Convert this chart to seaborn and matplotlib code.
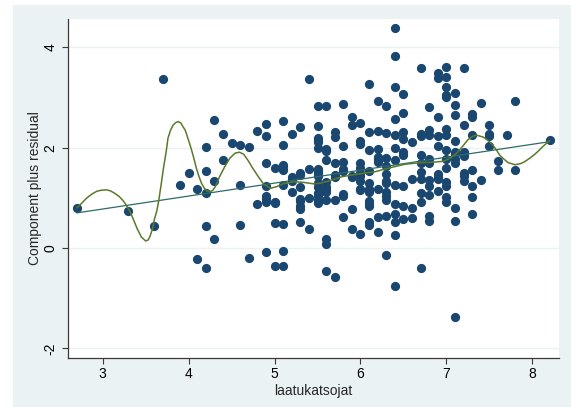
import numpy as np
import pandas as pd
import matplotlib
matplotlib.use("Agg")
import matplotlib.pyplot as plt
from matplotlib.patches import Rectangle
import seaborn as sns

# Rating levels (x) and the component-plus-residual values observed at each level
score_levels = [2.7, 3.3, 3.6, 3.7, 3.9, 4.0, 4.1, 4.2, 4.3, 4.4, 4.5, 4.6, 4.7, 4.8, 4.9,
                5.0, 5.1, 5.2, 5.3, 5.4, 5.5, 5.6, 5.7, 5.8, 5.9, 6.0, 6.1, 6.2, 6.3, 6.4,
                6.5, 6.6, 6.7, 6.8, 6.9, 7.0, 7.1, 7.2, 7.3, 7.4, 7.5, 7.6, 7.7, 7.8, 8.2]
cpr_values = [
    [0.80], [0.74], [0.44], [3.37], [1.25], [1.49],
    [1.18, -0.22],
    [2.01, 1.53, 1.10, 0.44, -0.39],
    [2.56, 1.34, 0.18],
    [2.28, 1.76],
    [2.09],
    [2.05, 1.26, 0.45],
    [2.01, -0.19],
    [2.33, 0.88],
    [2.48, 2.23, 1.70, 1.24, 1.04, 0.97, 0.92, -0.07],
    [1.60, 0.92, 0.89, 0.49, -0.35],
    [2.54, 2.05, 1.66, 1.62, 1.55, 1.26, 0.47, -0.05, -0.36],
    [2.28, 1.42, 1.38, 1.33, 1.12],
    [2.41, 1.50, 1.45, 1.22, 0.98, 0.93, 0.83, 0.78, 0.52],
    [3.36, 1.57, 0.99, 0.37],
    [2.84, 2.44, 2.20, 2.15, 2.11, 2.00, 1.58, 1.53, 1.50, 1.43, 1.30, 1.22, 1.10, 1.04, 0.96, 0.90],
    [2.84, 1.98, 1.93, 1.76, 1.32, 1.22, 1.16, 1.12, 0.96, 0.18, 0.07, -0.46],
    [2.31, 2.21, 1.69, 1.46, 1.42, 0.96, -0.57],
    [2.88, 2.03, 1.71, 1.58, 1.53, 1.08, 1.03, 0.61],
    [2.62, 2.45, 1.44, 1.41, 0.78, 0.37],
    [2.49, 2.13, 2.08, 1.70, 1.59, 1.50, 1.43, 1.33, 1.18, 1.15, 0.28],
    [3.26, 2.31, 1.95, 1.53, 1.30, 1.18, 1.11, 0.94, 0.87, 0.83, 0.51, 0.45],
    [2.94, 2.34, 1.98, 1.81, 1.77, 1.71, 1.18, 0.61, 0.31],
    [2.84, 2.29, 1.79, 1.64, 1.48, 1.34, 1.30, 1.11, 1.03, 0.96, 0.64, -0.13],
    [4.38, 3.82, 3.20, 2.58, 2.25, 1.99, 1.76, 1.26, 0.87, 0.68, 0.51, 0.25, -0.76],
    [3.06, 2.69, 2.31, 2.17, 1.91, 1.85, 1.24, 0.83, 0.58],
    [2.11, 1.38, 0.80, 0.59],
    [3.59, 2.27, 2.23, 1.86, 1.70, 1.51, 1.38, 1.10, 0.92, -0.39],
    [2.81, 2.35, 2.25, 1.77, 1.70, 1.36, 1.23, 1.06, 0.63, 0.54],
    [3.49, 3.38, 2.61, 2.23, 2.03, 1.47, 1.42, 1.38, 1.14],
    [3.61, 3.40, 3.20, 3.05, 3.01, 2.38, 2.25, 1.96, 1.77, 1.59, 1.32, 1.23, 1.01, 0.91],
    [3.08, 2.85, 2.66, 2.13, 1.92, 1.87, 1.77, 1.69, 0.79, 0.54, -1.38],
    [3.59, 2.45, 1.91, 1.83, 1.50, 1.43, 1.34],
    [2.68, 2.61, 2.25, 1.56, 1.24, 1.02, 0.68],
    [2.90, 1.36],
    [2.45, 2.27, 2.23, 2.03],
    [1.73, 1.55],
    [2.25],
    [2.94, 1.56],
    [2.15],
]

# Median-spline smooth of the same points
spline_x = [2.70, 2.76, 2.81, 2.87, 2.93, 2.98, 3.04, 3.09, 3.14, 3.19, 3.24, 3.28, 3.32,
            3.36, 3.40, 3.45, 3.50, 3.53, 3.55, 3.58, 3.60, 3.63, 3.65, 3.68, 3.71, 3.74,
            3.76, 3.79, 3.82, 3.85, 3.88, 3.91, 3.93, 3.96, 3.98, 4.01, 4.04, 4.07, 4.09,
            4.12, 4.15, 4.18, 4.21, 4.25, 4.28, 4.31, 4.36, 4.42, 4.48, 4.54, 4.59, 4.64,
            4.69, 4.75, 4.80, 4.87, 4.95, 5.02, 5.10, 5.22, 5.33, 5.45, 5.53, 5.64, 5.78,
            5.97, 6.17, 6.32, 6.52, 6.69, 6.85, 6.97, 7.04, 7.12, 7.16, 7.20, 7.25, 7.31,
            7.35, 7.43, 7.48, 7.53, 7.58, 7.62, 7.67, 7.72, 7.80, 7.86, 7.91, 7.97, 8.03,
            8.08, 8.12, 8.16, 8.20]
spline_y = [0.80, 0.90, 0.99, 1.07, 1.13, 1.15, 1.16, 1.14, 1.09, 1.03, 0.94, 0.84, 0.72,
            0.56, 0.39, 0.22, 0.14, 0.16, 0.23, 0.38, 0.56, 0.74, 0.92, 1.26, 1.62, 1.93,
            2.19, 2.35, 2.45, 2.50, 2.52, 2.49, 2.43, 2.35, 2.25, 2.09, 1.92, 1.73, 1.59,
            1.43, 1.29, 1.20, 1.14, 1.12, 1.15, 1.22, 1.42, 1.62, 1.79, 1.89, 1.91, 1.87,
            1.75, 1.58, 1.45, 1.28, 1.19, 1.22, 1.28, 1.32, 1.31, 1.28, 1.29, 1.34, 1.42,
            1.475, 1.52, 1.59, 1.67, 1.70, 1.71, 1.73, 1.79, 1.89, 1.97, 2.05, 2.16, 2.23,
            2.25, 2.21, 2.15, 2.07, 1.96, 1.85, 1.77, 1.70, 1.66, 1.68, 1.72, 1.79, 1.87,
            1.95, 2.02, 2.08, 2.14]

x_ticks = [3, 4, 5, 6, 7, 8]
y_ticks = [-2, 0, 2, 4]

rows = [(s, v) for s, vals in zip(score_levels, cpr_values) for v in vals]
df = pd.DataFrame(rows, columns=["laatukatsojat", "cpr"])

NAVY = "#1a476f"
TEAL = "#2c6b68"
OLIVE = "#5a7a2b"
REGION = "#eaf2f3"
AXIS = "#3a3a3a"

sns.set_style("ticks")
plt.rcParams["font.family"] = ["Liberation Sans", "DejaVu Sans"]
plt.rcParams["axes.unicode_minus"] = False

W, H = 571, 407
fig = plt.figure(figsize=(W / 100, H / 100), dpi=100)
fig.patch.set_facecolor("white")
fig.patches.append(Rectangle((13 / W, 0), 1 - 13 / W, (H - 5) / H,
                             transform=fig.transFigure, facecolor=REGION,
                             edgecolor="none", zorder=-5))

left, right, top, bottom = 68.3, 559.0, 19.0, 357.7
ax = fig.add_axes([left / W, 1 - bottom / H, (right - left) / W, (bottom - top) / H])
ax.set_facecolor("white")

sns.scatterplot(data=df, x="laatukatsojat", y="cpr", s=44, color=NAVY,
                linewidth=0, ax=ax, zorder=2)
sns.regplot(data=df, x="laatukatsojat", y="cpr", scatter=False, ci=None,
            truncate=True, ax=ax, line_kws=dict(color=TEAL, lw=0.9, zorder=3))
sns.lineplot(x=spline_x, y=spline_y, color=OLIVE, lw=1.1, sort=False,
             estimator=None, ax=ax, zorder=4)

ax.set_xlim(2.6, 8.31)
ax.set_ylim(-2.187, 4.565)
ax.set_xticks(x_ticks)
ax.set_yticks(y_ticks)
ax.yaxis.grid(True, color=REGION, lw=1.0)
ax.xaxis.grid(False)
ax.set_axisbelow(True)

for side in ("top", "right"):
    ax.spines[side].set_visible(False)
for side in ("left", "bottom"):
    ax.spines[side].set_color(AXIS)
    ax.spines[side].set_linewidth(0.9)

ax.tick_params(axis="both", direction="out", length=4, width=0.8, color=AXIS,
               labelsize=10, labelcolor="black")
ax.tick_params(axis="x", pad=3)
ax.tick_params(axis="y", pad=4)
for lab in ax.get_yticklabels():
    lab.set_rotation(90)
    lab.set_va("center")

ax.set_xlabel("laatukatsojat", fontsize=10, labelpad=2)
ax.set_ylabel("Component plus residual", fontsize=10, labelpad=1)

fig.savefig("out.png", dpi=100, facecolor=fig.get_facecolor())
